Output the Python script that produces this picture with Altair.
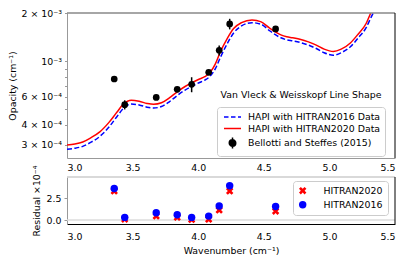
import altair as alt
import pandas as pd

# ---------------- data ----------------
wn_curve = [3.00, 3.06, 3.12, 3.18, 3.25, 3.32, 3.38, 3.43, 3.49, 3.55, 3.61, 3.66,
            3.72, 3.78, 3.84, 3.90, 3.96, 4.01, 4.05, 4.09, 4.13, 4.17, 4.22, 4.27,
            4.33, 4.41, 4.48, 4.54, 4.585, 4.63, 4.675, 4.72, 4.775, 4.84, 4.90, 4.96,
            5.03, 5.09, 5.16, 5.22, 5.28, 5.315, 5.35]
op_2020 = [3.00e-4, 3.04e-4, 3.13e-4, 3.32e-4, 3.62e-4, 4.15e-4, 4.80e-4, 5.40e-4, 5.70e-4,
           5.62e-4, 5.45e-4, 5.38e-4, 5.50e-4, 5.90e-4, 6.44e-4, 6.95e-4, 7.40e-4, 7.74e-4,
           8.00e-4, 8.50e-4, 9.60e-4, 1.15e-3, 1.38e-3, 1.60e-3, 1.74e-3, 1.81e-3, 1.76e-3,
           1.62e-3, 1.53e-3, 1.46e-3, 1.42e-3, 1.40e-3, 1.37e-3, 1.32e-3, 1.26e-3, 1.19e-3,
           1.15e-3, 1.19e-3, 1.30e-3, 1.48e-3, 1.72e-3, 2.00e-3, 2.30e-3]
op_2016 = [2.82e-4, 2.86e-4, 2.94e-4, 3.11e-4, 3.39e-4, 3.88e-4, 4.50e-4, 5.08e-4, 5.40e-4,
           5.33e-4, 5.16e-4, 5.10e-4, 5.21e-4, 5.58e-4, 6.10e-4, 6.60e-4, 7.03e-4, 7.36e-4,
           7.62e-4, 8.05e-4, 8.95e-4, 1.06e-3, 1.28e-3, 1.50e-3, 1.66e-3, 1.74e-3, 1.70e-3,
           1.56e-3, 1.47e-3, 1.40e-3, 1.36e-3, 1.34e-3, 1.31e-3, 1.26e-3, 1.20e-3, 1.13e-3,
           1.09e-3, 1.13e-3, 1.23e-3, 1.40e-3, 1.62e-3, 1.86e-3, 2.12e-3]

meas_wn = [3.36, 3.44, 3.68, 3.84, 3.95, 4.08, 4.16, 4.24, 4.59]
meas_op = [7.74e-4, 5.35e-4, 5.94e-4, 6.67e-4, 7.17e-4, 8.52e-4, 1.17e-3, 1.71e-3, 1.59e-3]
meas_err = [0.10e-4, 0.35e-4, 0.15e-4, 0.15e-4, 0.77e-4, 0.20e-4, 0.85e-4, 1.30e-4, 0.35e-4]

res_2020 = [3.30, 0.10, 0.45, 0.30, 0.05, 0.08, 1.14, 3.30, 1.00]
res_2016 = [3.60, 0.30, 0.83, 0.60, 0.30, 0.45, 1.60, 3.90, 1.55]

series_names = ["HAPI with HITRAN2016 Data", "HAPI with HITRAN2020 Data",
                "Bellotti and Steffes (2015)"]
res_names = ["HITRAN2020", "HITRAN2016"]

x_ticks = [3.0, 3.5, 4.0, 4.5, 5.0, 5.5]
y_ticks = [3e-4, 4e-4, 5e-4, 6e-4, 7e-4, 8e-4, 9e-4, 1e-3, 2e-3]
y_tick_labels = ["3 × 10⁻⁴", "4 × 10⁻⁴", "", "6 × 10⁻⁴", "", "", "", "10⁻³", "2 × 10⁻³"]
res_ticks = [0.0, 2.5]

# ---------------- tables ----------------
df16 = pd.DataFrame({"wn": wn_curve, "op": op_2016, "series": series_names[0]})
df20 = pd.DataFrame({"wn": wn_curve, "op": op_2020, "series": series_names[1]})
curve_df = pd.concat([df16, df20], ignore_index=True)
meas_df = pd.DataFrame({
    "wn": meas_wn, "op": meas_op,
    "lo": [v - e for v, e in zip(meas_op, meas_err)],
    "hi": [v + e for v, e in zip(meas_op, meas_err)],
})
res_df = pd.DataFrame({
    "wn": meas_wn + meas_wn,
    "res": res_2020 + res_2016,
    "model": [res_names[0]] * len(meas_wn) + [res_names[1]] * len(meas_wn),
})
one = pd.DataFrame({"a": [0]})

# ---------------- layout (one view, two stacked panels) ----------------
FONT = "DejaVu Sans"
FS = 9.4
W = 328
TOP_Y0, TOP_Y1 = 0, 145      # upper panel inside the view
BOT_Y0, BOT_Y1 = 164, 211    # residual panel inside the view
VIEW_H = BOT_Y1
BLUE, RED = "#0000ff", "#ff0000"
GRAY = "#999999"

label_expr = " : ".join(
    f"datum.value == {v!r} ? '{l}'" for v, l in zip(y_ticks, y_tick_labels)
) + " : ''"

# ---------------- top panel ----------------
x_axis_top = alt.Axis(values=x_ticks, format=".1f", title=None, orient="bottom",
                      offset=TOP_Y1 - VIEW_H, ticks=True, tickSize=0, labelPadding=5,
                      domainColor=GRAY, grid=False)
x_scale_top = alt.Scale(domain=[3.0, 5.5], nice=False, zero=False)
y_scale_top = alt.Scale(type="log", domain=[2.486e-4, 2e-3], nice=False,
                        range=[TOP_Y1, TOP_Y0])
y_axis_top = alt.Axis(values=y_ticks, labelExpr=label_expr, title="Opacity (cm⁻¹)",
                      orient="left", tickSize=2.5, tickColor=GRAY, domainColor=GRAY,
                      labelPadding=3, titleX=-54.5, titleY=(TOP_Y0 + TOP_Y1) / 2,
                      titleBaseline="middle", grid=False)
x_top = alt.X("wn:Q", scale=x_scale_top, axis=x_axis_top)
y_top = alt.Y("op:Q", scale=y_scale_top, axis=y_axis_top)

line16 = alt.Chart(df16).mark_line(color=BLUE, strokeWidth=1.5, strokeDash=[5, 2.4],
                                   clip=True, interpolate="monotone").encode(x=x_top, y=y_top)
line20 = alt.Chart(df20).mark_line(color=RED, strokeWidth=1.5, clip=True,
                                   interpolate="monotone").encode(x=x_top, y=y_top)

dash_path = "M-0.6,0H0.3M0.8,0H1.7M2.2,0H2.8"
solid_path = "M-0.6,0H2.8"
dot_path = ("M1.1,-1.1V1.1"
            "M0.45,0A0.65,0.65 0 1,0 1.75,0A0.65,0.65 0 1,0 0.45,0"
            "M0.7,0A0.4,0.4 0 1,0 1.5,0A0.4,0.4 0 1,0 0.7,0"
            "M0.95,0A0.15,0.15 0 1,0 1.25,0A0.15,0.15 0 1,0 0.95,0")

leg_top = alt.Legend(title=None, orient="none", legendX=150, legendY=94, padding=4,
                     strokeColor="#cccccc", fillColor="white", cornerRadius=3,
                     symbolSize=100, symbolStrokeWidth=1.5, symbolOpacity=1,
                     symbolFillColor="black", labelFontSize=FS, labelFont=FONT,
                     labelOffset=15, rowPadding=0.5, labelColor="black")
legend_layer = alt.Chart(curve_df).mark_point(opacity=0, filled=False, clip=True, size=4).encode(
    x=x_top, y=y_top,
    color=alt.Color("series:N", scale=alt.Scale(domain=series_names,
                                                range=[BLUE, RED, "black"]), legend=leg_top),
    shape=alt.Shape("series:N", scale=alt.Scale(domain=series_names,
                                                range=[dash_path, solid_path, dot_path]),
                    legend=leg_top),
)

errbars = alt.Chart(meas_df).mark_rule(color="black", strokeWidth=1.5).encode(
    x=x_top, y=alt.Y("lo:Q", scale=y_scale_top, axis=y_axis_top), y2="hi:Q")
pts = alt.Chart(meas_df).mark_circle(color="black", size=45, opacity=1).encode(x=x_top, y=y_top)

leg_title = alt.Chart(one).mark_text(font=FONT, fontSize=FS, align="center",
                                     baseline="middle", color="black").encode(
    x=alt.value(234), y=alt.value(82), text=alt.value("Van Vleck & Weisskopf Line Shape"))

top_spine = alt.Chart(one).mark_rule(color="#888888", strokeWidth=1.5).encode(
    x=alt.value(0), x2=alt.value(W), y=alt.value(TOP_Y0))
right_spine = alt.Chart(one).mark_rule(color="black", strokeWidth=1).encode(
    x=alt.value(W), y=alt.value(TOP_Y0), y2=alt.value(TOP_Y1))

top = alt.layer(line16, line20, legend_layer, errbars, pts, leg_title, top_spine, right_spine)

# ---------------- residual panel ----------------
x_axis_bot = alt.Axis(values=x_ticks, format=".1f", title="Wavenumber (cm⁻¹)",
                      orient="bottom", ticks=True, tickSize=0, labelPadding=8,
                      titleX=W / 2, titleY=26, titleBaseline="middle",
                      domainColor="black", grid=False)
x_scale_bot = alt.Scale(domain=[3.0, 5.5], nice=False, zero=False)
y_scale_bot = alt.Scale(domain=[-0.45, 4.9], nice=False, zero=False,
                        range=[BOT_Y1, BOT_Y0])
y_axis_bot = alt.Axis(values=res_ticks, format=".1f", title="Residual ×10⁻⁴",
                      orient="left", tickSize=3, tickColor=GRAY, domainColor=GRAY,
                      labelPadding=3, titleX=-30.5, titleY=(BOT_Y0 + BOT_Y1) / 2,
                      titleBaseline="middle", grid=False)
x_bot = alt.X("wn:Q", scale=x_scale_bot, axis=x_axis_bot)
y_bot = alt.Y("res:Q", scale=y_scale_bot, axis=y_axis_bot)

x_path = ("M-1,-0.5L-0.5,-1L0,-0.5L0.5,-1L1,-0.5L0.5,0L1,0.5L0.5,1L0,0.5"
          "L-0.5,1L-1,0.5L-0.5,0Z")
leg_res = alt.Legend(title=None, orient="none", legendX=226, legendY=BOT_Y0 + 4, padding=5,
                     strokeColor="#cccccc", fillColor="white", cornerRadius=3,
                     symbolSize=55, symbolStrokeWidth=0, labelFontSize=FS, labelFont=FONT,
                     labelOffset=16, rowPadding=3, labelColor="black")

zero_line = alt.Chart(one).mark_rule(color="#dddddd", strokeWidth=1.5).encode(
    x=alt.value(0), x2=alt.value(W),
    y=alt.datum(0, scale=y_scale_bot, axis=y_axis_bot))
res_pts = alt.Chart(res_df).mark_point(filled=True, size=55, opacity=1).encode(
    x=x_bot, y=y_bot,
    color=alt.Color("model:N", scale=alt.Scale(domain=res_names, range=[RED, BLUE]),
                    legend=leg_res),
    shape=alt.Shape("model:N", scale=alt.Scale(domain=res_names, range=[x_path, "circle"]),
                    legend=leg_res),
)
btop_spine = alt.Chart(one).mark_rule(color="#cccccc", strokeWidth=1.5).encode(
    x=alt.value(0), x2=alt.value(W), y=alt.value(BOT_Y0))
bright_spine = alt.Chart(one).mark_rule(color="black", strokeWidth=1).encode(
    x=alt.value(W), y=alt.value(BOT_Y0), y2=alt.value(BOT_Y1))

bottom = alt.layer(zero_line, res_pts, btop_spine, bright_spine)

chart = alt.layer(top, bottom).resolve_scale(
    x="independent", y="independent", color="independent", shape="independent"
).properties(
    width=W, height=VIEW_H,
    autosize=alt.AutoSizeParams(type="none"),
    padding={"left": 59, "top": 5, "right": 6, "bottom": 33},
).configure_view(stroke=None).configure_axis(
    labelFont=FONT, titleFont=FONT, labelFontSize=FS, titleFontSize=FS,
    titleFontWeight="normal", labelColor="black", titleColor="black"
).configure_legend(labelFont=FONT, labelFontSize=FS)

chart.save("out.html", embed_options={"renderer": "svg", "actions": False})
